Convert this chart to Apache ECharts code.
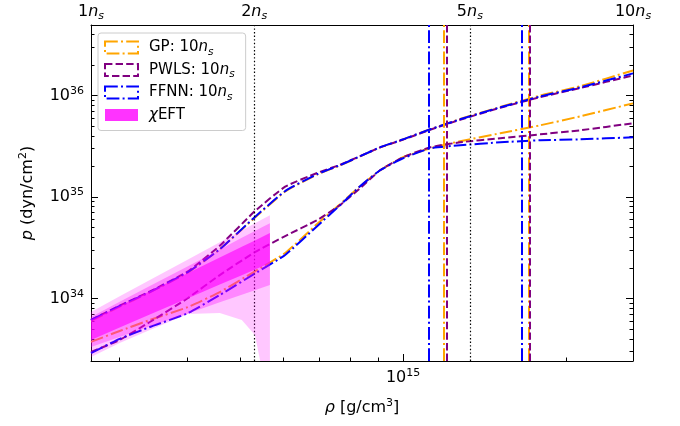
<!DOCTYPE html>
<html><head><meta charset="utf-8">
<script src="https://cdn.jsdelivr.net/npm/echarts@6.0.0/dist/echarts.min.js"></script>
<style>html,body{margin:0;padding:0;background:#fff}#c{width:680px;height:426px}</style>
</head><body><div id="c"></div>
<script>
// ---------- data ----------
const NSAT = 2.656e14; // saturation density in g/cm^3
const RHO = [2.656e14, 3.00e14, 3.41e14, 4.01e14, 4.59e14, 5.33e14, 6.06e14, 6.94e14, 7.65e14, 8.33e14, 9.07e14, 1.00e15, 1.122e15, 1.274e15, 1.511e15, 1.791e15, 2.123e15, 2.656e15];
const GP_UP   = [6.0e33, 8.3e33, 1.15e34, 1.80e34, 3.05e34, 6.25e34, 1.13e35, 1.66e35, 2.04e35, 2.50e35, 3.07e35, 3.68e35, 4.63e35, 5.85e35, 7.70e35, 9.95e35, 1.23e36, 1.76e36];
const GP_LO   = [3.73e33, 4.78e33, 6.13e33, 8.23e33, 1.156e34, 1.85e34, 2.80e34, 5.40e34, 8.48e34, 1.274e35, 1.830e35, 2.457e35, 3.01e35, 3.53e35, 4.23e35, 5.07e35, 6.22e35, 8.34e35];
const PWLS_UP = [6.13e33, 8.5e33, 1.17e34, 1.85e34, 3.30e34, 7.25e34, 1.26e35, 1.72e35, 2.07e35, 2.52e35, 3.07e35, 3.66e35, 4.58e35, 5.75e35, 7.55e35, 9.6e35, 1.18e36, 1.573e36];
const PWLS_LO = [2.97e33, 3.90e33, 5.86e33, 1.009e34, 1.699e34, 2.86e34, 4.11e34, 5.90e34, 8.29e34, 1.218e35, 1.830e35, 2.457e35, 3.08e35, 3.45e35, 3.78e35, 4.13e35, 4.53e35, 5.31e35];
const FFNN_UP = [6.13e33, 8.42e33, 1.156e34, 1.818e34, 3.05e34, 6.35e34, 1.14e35, 1.672e35, 2.05e35, 2.513e35, 3.08e35, 3.69e35, 4.63e35, 5.81e35, 7.62e35, 9.77e35, 1.199e36, 1.645e36];
const FFNN_LO = [2.90e33, 3.99e33, 5.23e33, 7.18e33, 1.080e34, 1.76e34, 2.68e34, 5.15e34, 8.29e34, 1.274e35, 1.830e35, 2.40e35, 3.01e35, 3.22e35, 3.45e35, 3.61e35, 3.69e35, 3.86e35];
const MAX_GP   = [1.189e15, 1.707e15];
const MAX_PWLS = [1.206e15, 1.714e15];
const MAX_FFNN = [1.117e15, 1.659e15];
const REF_NS   = [2, 5]; // dotted reference lines, in units of n_s

const EFT_RHO  = [2.656e14, 3.00e14, 3.41e14, 4.01e14, 4.59e14, 5.04e14, 5.33e14, 5.49e14, 5.68e14];
const EFT_A_UP = [7.35e33, 1.049e34, 1.517e34, 2.418e34, 3.58e34, 4.68e34, 5.50e34, 5.99e34, 6.61e34];
const EFT_A_LO = [2.65e33, 3.64e33, 4.89e33, 7.02e33, 7.18e33, 6.13e33, 4.37e33, 2.0e33, 1.0e33];
const EFT_B_UP = [6.56e33, 9.26e33, 1.324e34, 2.078e34, 3.04e34, 3.95e34, 4.61e34, 5.01e34, 5.51e34];
const EFT_B_LO = [3.33e33, 4.17e33, 5.28e33, 7.12e33, 9.16e33, 1.087e34, 1.204e34, 1.271e34, 1.354e34];
const EFT_C_UP = [6.13e33, 8.44e33, 1.175e34, 1.781e34, 2.536e34, 3.23e34, 3.73e34, 4.03e34, 4.40e34];
const EFT_C_LO = [3.90e33, 5.18e33, 6.93e33, 1.002e34, 1.370e34, 1.696e34, 1.924e34, 2.06e34, 2.23e34];

const X_LABELS = [1e15];
const X_MINOR = [3e14, 4e14, 5e14, 6e14, 7e14, 8e14, 9e14, 2e15];
const Y_LABELS = [1e34, 1e35, 1e36];
const Y_MINOR = [3e33, 4e33, 5e33, 6e33, 7e33, 8e33, 9e33, 2e34, 3e34, 4e34, 5e34, 6e34, 7e34, 8e34, 9e34, 2e35, 3e35, 4e35, 5e35, 6e35, 7e35, 8e35, 9e35, 2e36, 3e36, 4e36];
const TOP_LABELS = [1, 2, 5, 10];

// ---------- styles ----------
const FONT = 'DejaVu Sans';
const C_GP = '#ffa500', C_PWLS = '#800080', C_FFNN = '#0000ff';
const DASHDOT = [12.8, 3.2, 2, 3.2], DASHED = [7.4, 3.2], DOTTED = [1.4, 2.2];
const BAND_FILL = ['rgba(255,0,255,0.22)', 'rgba(255,0,255,0.32)', 'rgba(255,0,255,0.62)'];
const BANDS = [[EFT_A_UP, EFT_A_LO], [EFT_B_UP, EFT_B_LO], [EFT_C_UP, EFT_C_LO]];

const zip = (xs, ys) => xs.map((x, i) => [x, ys[i]]);
const supRich = {
  b: {fontFamily: FONT, fontSize: 16, color: '#000', lineHeight: 20},
  s: {fontFamily: FONT, fontSize: 11, color: '#000', lineHeight: 11, verticalAlign: 'top'},
  i: {fontFamily: FONT, fontSize: 16, color: '#000', fontStyle: 'italic', lineHeight: 20},
  u: {fontFamily: FONT, fontSize: 11, color: '#000', fontStyle: 'italic', lineHeight: 11, verticalAlign: 'bottom'}
};
const Y_MIN = 2.42e33, Y_MAX = 4.93e36;
const baseAxis = {axisLine: {show: false}, axisLabel: {show: false}, splitLine: {show: false}, axisTick: {show: false}};
const tickLS = {color: '#000', width: 1};

function lineSeries(name, xs, ys, color, type, extra) {
  return Object.assign({
    type: 'line', name: name, data: zip(xs, ys), showSymbol: false, smooth: 0.15,
    lineStyle: {color: color, width: 2, type: type}, itemStyle: {color: color}, z: 3
  }, extra || {});
}
function vlines(vals, color, type) {
  return {silent: true, symbol: 'none', label: {show: false},
    lineStyle: {color: color, width: 2, type: type},
    data: vals.map(v => ({xAxis: v}))};
}

const chart = echarts.init(document.getElementById('c'), null, {renderer: 'canvas'});
chart.setOption({
  animation: false,
  backgroundColor: '#fff',
  grid: {left: 91, right: 47, top: 25, bottom: 65},
  legend: {
    orient: 'vertical', left: 98, top: 33, padding: [7, 11, 8, 6], itemGap: 5,
    itemWidth: 33, itemHeight: 12, selectedMode: false,
    backgroundColor: 'rgba(255,255,255,0.8)', borderColor: '#cccccc', borderWidth: 1, borderRadius: 3,
    data: [
      {name: 'GP', icon: 'rect', itemStyle: {color: 'rgba(0,0,0,0)', borderColor: C_GP, borderWidth: 2, borderType: DASHDOT}},
      {name: 'PWLS', icon: 'rect', itemStyle: {color: 'rgba(0,0,0,0)', borderColor: C_PWLS, borderWidth: 2, borderType: DASHED}},
      {name: 'FFNN', icon: 'rect', itemStyle: {color: 'rgba(0,0,0,0)', borderColor: C_FFNN, borderWidth: 2, borderType: DASHDOT}},
      {name: 'χEFT', icon: 'rect', itemStyle: {color: 'rgba(255,0,255,0.8)', borderWidth: 0}}
    ],
    formatter: n => n === 'χEFT' ? '{li|χ}{l|EFT}' : '{l|' + n + ': 10}{li|n}{ls|s}',
    textStyle: {
      fontFamily: FONT, fontSize: 15, color: '#000', padding: [0, 0, 0, 6],
      rich: {
        l: {fontFamily: FONT, fontSize: 15, color: '#000', lineHeight: 20},
        li: {fontFamily: FONT, fontSize: 15, color: '#000', fontStyle: 'italic', lineHeight: 20},
        ls: {fontFamily: FONT, fontSize: 10.5, color: '#000', fontStyle: 'italic', lineHeight: 13, verticalAlign: 'bottom'}
      }
    }
  },
  xAxis: [
    Object.assign({}, baseAxis, {
      type: 'log', min: NSAT, max: 10 * NSAT, position: 'bottom',
      axisLine: {show: true, lineStyle: {color: '#000', width: 1}},
      axisTick: {show: true, inside: true, length: 7, customValues: X_LABELS, lineStyle: tickLS},
      axisLabel: {show: true, customValues: X_LABELS, margin: 7, formatter: v => '{b|10}{s|' + Math.round(Math.log10(v)) + '}', rich: supRich},
      name: '{i|ρ}{b| [g/cm}{s|3}{b|]}', nameLocation: 'middle', nameGap: 37,
      nameTextStyle: {rich: supRich}
    }),
    Object.assign({}, baseAxis, {
      type: 'log', min: NSAT, max: 10 * NSAT, position: 'bottom',
      axisTick: {show: true, inside: true, length: 3.5, customValues: X_MINOR, lineStyle: tickLS}
    }),
    Object.assign({}, baseAxis, {
      type: 'log', min: 1, max: 10, position: 'top',
      axisLine: {show: true, lineStyle: {color: '#000', width: 1}},
      axisLabel: {show: true, customValues: TOP_LABELS, margin: 3, formatter: v => '{b|' + Math.round(v) + '}{i|n}{u|s}', rich: supRich}
    })
  ],
  yAxis: [
    Object.assign({}, baseAxis, {
      type: 'log', min: Y_MIN, max: Y_MAX, position: 'left',
      axisLine: {show: true, lineStyle: {color: '#000', width: 1}},
      axisTick: {show: true, inside: true, length: 7, customValues: Y_LABELS, lineStyle: tickLS},
      axisLabel: {show: true, customValues: Y_LABELS, margin: 7, formatter: v => '{b|10}{s|' + Math.round(Math.log10(v)) + '}', rich: supRich},
      name: '{i|p}{b| (dyn/cm}{s|2}{b|)}', nameLocation: 'middle', nameGap: 53, nameRotate: 90,
      nameTextStyle: {rich: supRich}
    }),
    Object.assign({}, baseAxis, {
      type: 'log', min: Y_MIN, max: Y_MAX, position: 'left',
      axisTick: {show: true, inside: true, length: 3.5, customValues: Y_MINOR, lineStyle: tickLS}
    }),
    Object.assign({}, baseAxis, {
      type: 'log', min: Y_MIN, max: Y_MAX, position: 'right',
      axisLine: {show: true, lineStyle: {color: '#000', width: 1}},
      axisTick: {show: true, inside: true, length: 7, customValues: Y_LABELS, lineStyle: tickLS}
    }),
    Object.assign({}, baseAxis, {
      type: 'log', min: Y_MIN, max: Y_MAX, position: 'right',
      axisTick: {show: true, inside: true, length: 3.5, customValues: Y_MINOR, lineStyle: tickLS}
    })
  ],
  series: [
    lineSeries('GP', RHO, GP_UP, C_GP, DASHDOT, {markLine: {
      silent: true, symbol: 'none', label: {show: false},
      lineStyle: {color: '#000', width: 1.2, type: DOTTED},
      data: REF_NS.map(k => ({xAxis: k * NSAT}))}, z: 2}),
    lineSeries('GP', RHO, GP_LO, C_GP, DASHDOT, {markLine: vlines(MAX_GP, C_GP, DASHDOT)}),
    lineSeries('PWLS', RHO, PWLS_UP, C_PWLS, DASHED),
    lineSeries('PWLS', RHO, PWLS_LO, C_PWLS, DASHED, {markLine: vlines(MAX_PWLS, C_PWLS, DASHED)}),
    lineSeries('FFNN', RHO, FFNN_UP, C_FFNN, DASHDOT),
    lineSeries('FFNN', RHO, FFNN_LO, C_FFNN, DASHDOT, {markLine: vlines(MAX_FFNN, C_FFNN, DASHDOT)}),
    {
      type: 'custom', name: 'χEFT', clip: true, z: 5,
      itemStyle: {color: 'rgba(255,0,255,0.8)'},
      data: BANDS.map(b => [EFT_RHO[0], b[0][0]]),
      encode: {x: 0, y: 1},
      renderItem: function (params, api) {
        const b = BANDS[params.dataIndex];
        const pts = [];
        for (let i = 0; i < EFT_RHO.length; i++) pts.push(api.coord([EFT_RHO[i], b[0][i]]));
        for (let i = EFT_RHO.length - 1; i >= 0; i--) pts.push(api.coord([EFT_RHO[i], b[1][i]]));
        return {type: 'polygon', shape: {points: pts}, style: {fill: BAND_FILL[params.dataIndex]}};
      }
    }
  ]
});
</script></body></html>
